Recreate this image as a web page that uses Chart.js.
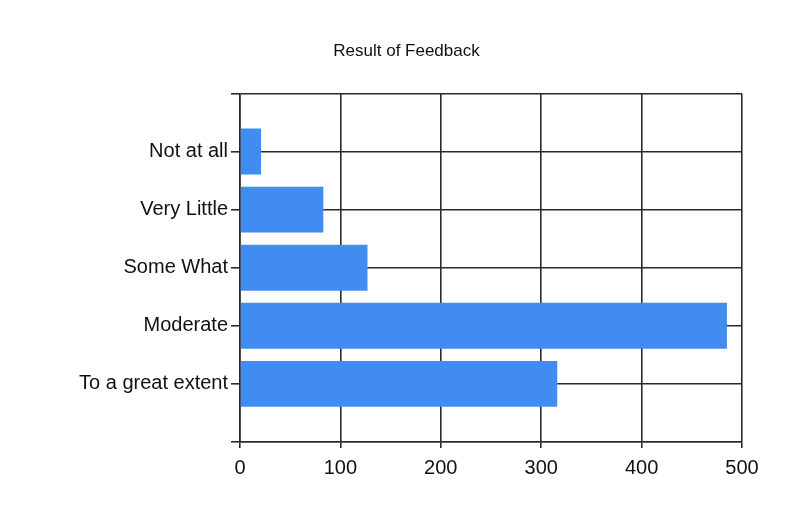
<!DOCTYPE html>
<html>
<head>
<meta charset="utf-8">
<title>Result of Feedback</title>
<script src="https://cdn.jsdelivr.net/npm/chart.js@4/dist/chart.umd.min.js"></script>
<style>
  html, body { margin: 0; padding: 0; background: #fff; }
  #wrap { width: 789px; height: 508px; position: relative; }
</style>
</head>
<body>
<div id="wrap"><canvas id="feedbackChart"></canvas></div>
<script>
// ---- data ----
const categories = ['Not at all', 'Very Little', 'Some What', 'Moderate', 'To a great extent'];
const responses = [21, 83, 127, 485, 316];
const xTicks = [0, 100, 200, 300, 400, 500];

// empty slots at both ends so the frame sits one category away from the bars
const labels = [''].concat(categories, ['']);
const values = [null].concat(responses, [null]);

const lineColor = '#2a2a2a';
const fontName = '"Liberation Sans", Arial, sans-serif';
const padLeft = 24;

new Chart(document.getElementById('feedbackChart'), {
  type: 'bar',
  data: {
    labels: labels,
    datasets: [{
      label: 'Feedback',
      data: values,
      backgroundColor: '#418CF0',
      borderWidth: 0,
      categoryPercentage: 1,
      barPercentage: 0.79,
    }],
  },
  options: {
    indexAxis: 'y',
    responsive: true,
    maintainAspectRatio: false,
    animation: false,
    layout: { padding: { left: padLeft, right: 0, top: 0, bottom: 0 } },
    plugins: {
      legend: { display: false },
      tooltip: { enabled: false },
      title: {
        display: true,
        text: 'Result of Feedback',
        color: '#111',
        font: { family: fontName, size: 17, weight: 'normal' },
        padding: { top: 41, bottom: 32 },
      },
    },
    scales: {
      y: {
        type: 'category',
        offset: false,
        grid: { offset: false, color: lineColor, lineWidth: 1.6, tickLength: 9, tickColor: lineColor },
        border: { color: lineColor, width: 1.6 },
        ticks: {
          color: '#111',
          padding: 3,
          autoSkip: false,
          font: { family: fontName, size: 20 },
        },
        afterFit: (s) => { s.width = 240 - padLeft; },
      },
      // blank spacer on the right so the frame ends at 742px
      yRight: {
        type: 'category',
        position: 'right',
        grid: { display: false },
        border: { display: false },
        ticks: { display: false },
        afterFit: (s) => { s.width = 47; },
      },
      x: {
        type: 'linear',
        min: xTicks[0],
        max: xTicks[xTicks.length - 1],
        afterBuildTicks: (s) => { s.ticks = xTicks.map(v => ({ value: v })); },
        grid: { color: lineColor, lineWidth: 1.6, tickLength: 6, tickColor: lineColor },
        border: { color: lineColor, width: 1.6 },
        ticks: {
          color: '#111',
          padding: 8,
          font: { family: fontName, size: 20 },
        },
        afterFit: (s) => { s.height = 66; },
      },
    },
  },
});
</script>
</body>
</html>
